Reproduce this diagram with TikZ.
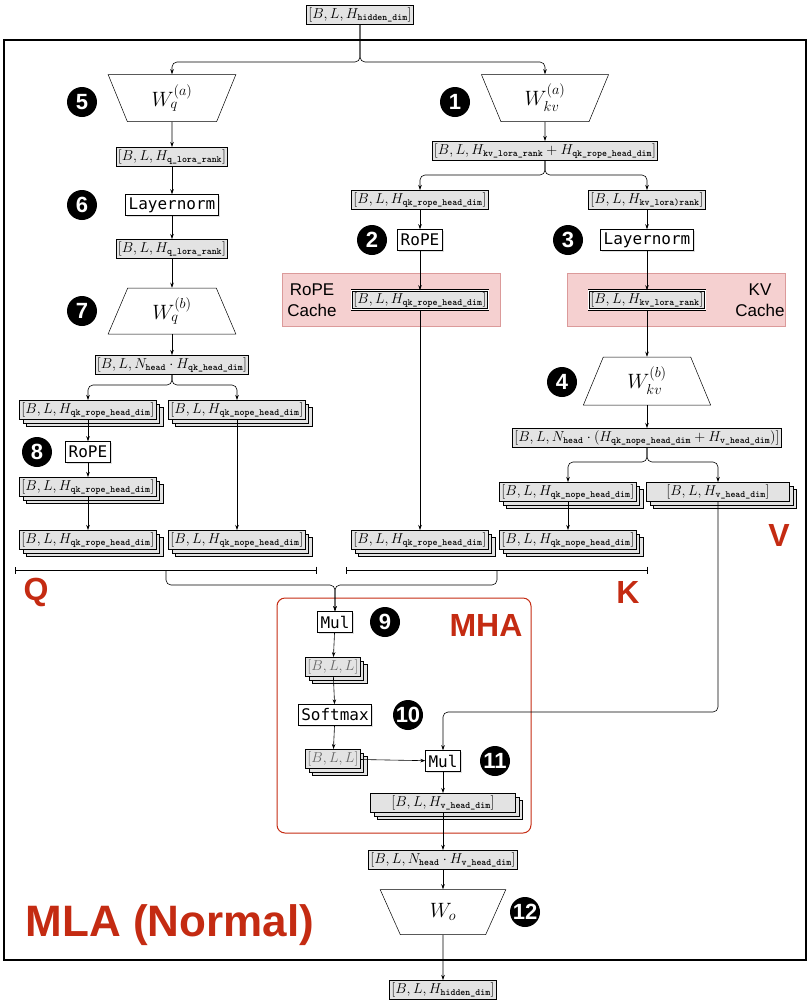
\documentclass[tikz,border=0pt]{standalone}
\usepackage{amsmath}
\usepackage{fontspec}
\newfontfamily\sansf{Liberation Sans}
\newfontfamily\monof{DejaVu Sans Mono}
\usetikzlibrary{shapes.geometric,shadows,arrows.meta}
\definecolor{mred}{HTML}{C42B12}
\definecolor{pinkf}{HTML}{F5D0D0}
\definecolor{pinkd}{HTML}{DB9A9A}
\newcommand{\tsub}[1]{\text{\ttfamily\bfseries #1}}
\begin{document}
\begin{tikzpicture}[x=1pt,y=-1pt,
  every path/.style={line width=0.6pt},
  arr/.style={-{Stealth[length=5pt,width=3.5pt]},rounded corners=5pt},
  ten/.style={draw,line width=1pt,fill=gray!22,inner sep=1.5pt,minimum height=19pt,font=\fontsize{13.5}{15}\selectfont},
  stk/.style={ten,double copy shadow={shadow xshift=3.5pt,shadow yshift=-3.5pt,fill=gray!22,draw,line width=1pt}},
  op/.style={draw,fill=white,line width=0.5pt,inner sep=3pt,minimum height=21pt,font=\monof\fontsize{16}{18}\selectfont,drop shadow={opacity=0.25,shadow xshift=1.5pt,shadow yshift=-1.5pt}},
  num/.style={circle,fill=black,text=white,inner sep=0pt,minimum size=30pt,font=\sansf\bfseries\fontsize{22}{24}\selectfont},
  trap/.style={draw,fill=white,trapezium,trapezium stretches=true,line width=0.5pt,font=\fontsize{22}{24}\selectfont},
  cache/.style={fill=pinkf,draw=pinkd,line width=0.8pt},
  dbl/.style={ten,double,double distance=1pt,line width=0.6pt},
  lab/.style={font=\sansf\bfseries\fontsize{32}{34}\selectfont,text=mred},
]
\useasboundingbox (0,0) rectangle (808,1005);
\draw[line width=1.5pt] (4,40) rectangle (806,960);

\node[ten] (in) at (360,15) {$[B,L,H_{\tsub{hidden\_dim}}]$};

% Q branch
\node[trap,shape border rotate=180,minimum width=128pt,minimum height=47pt,trapezium angle=73] (wqa) at (172,98) {$W_q^{(a)}$};
\node[num] (n5) at (82,102) {5};
\node[ten] (q1) at (172,157) {$[B,L,H_{\tsub{q\_lora\_rank}}]$};
\node[op] (ln1) at (172,205) {Layernorm};
\node[num] (n6) at (82,205) {6};
\node[ten] (q2) at (172,249) {$[B,L,H_{\tsub{q\_lora\_rank}}]$};
\node[trap,minimum width=128pt,minimum height=46pt,trapezium angle=73] (wqb) at (172,311) {$W_q^{(b)}$};
\node[num] (n7) at (82,311) {7};
\node[ten] (q3) at (172,365) {$[B,L,N_{\tsub{head}}\cdot H_{\tsub{qk\_head\_dim}}]$};
\node[stk] (qr1) at (88,410) {$[B,L,H_{\tsub{qk\_rope\_head\_dim}}]$};
\node[stk] (qn1) at (237,410) {$[B,L,H_{\tsub{qk\_nope\_head\_dim}}]$};
\node[op] (rope8) at (88,452) {RoPE};
\node[num] (n8) at (37,452) {8};
\node[stk] (qr2) at (88,487) {$[B,L,H_{\tsub{qk\_rope\_head\_dim}}]$};
\node[stk] (qr3) at (88,540) {$[B,L,H_{\tsub{qk\_rope\_head\_dim}}]$};
\node[stk] (qn3) at (237,540) {$[B,L,H_{\tsub{qk\_nope\_head\_dim}}]$};
\coordinate (qa) at (15,570); \coordinate (qb) at (317,570); \coordinate (qm) at (166,570);
\draw[|-|,line width=1pt] (qa) -- (qb);
\node[lab] (Q) at (36,592) {Q};

% KV branch
\node[trap,shape border rotate=180,minimum width=128pt,minimum height=47pt,trapezium angle=73] (wkva) at (545,98) {$W_{kv}^{(a)}$};
\node[num] (n1) at (455,102) {1};
\node[ten] (k1) at (545,151) {$[B,L,H_{\tsub{kv\_lora\_rank}}+H_{\tsub{qk\_rope\_head\_dim}}]$};
\node[ten] (kr1) at (420,200) {$[B,L,H_{\tsub{qk\_rope\_head\_dim}}]$};
\node[ten] (kl1) at (647,200) {$[B,L,H_{\tsub{kv\_lora)rank}}]$};
\node[op] (rope2) at (420,240) {RoPE};
\node[num] (n2) at (372,240) {2};
\node[op] (ln3) at (647,240) {Layernorm};
\node[num] (n3) at (568,240) {3};
\draw[cache] (282,273) rectangle (500,326);
\draw[cache] (567,273) rectangle (785,326);
\node[font=\sansf\fontsize{17}{21}\selectfont,align=center,inner sep=0pt] (rc) at (312,300) {RoPE\\Cache};
\node[font=\sansf\fontsize{17}{21}\selectfont,align=center,inner sep=0pt] (kc) at (760,300) {KV\\Cache};
\node[dbl] (kr2) at (420,300) {$[B,L,H_{\tsub{qk\_rope\_head\_dim}}]$};
\node[dbl] (kl2) at (647,300) {$[B,L,H_{\tsub{kv\_lora\_rank}}]$};
\node[trap,minimum width=128pt,minimum height=48pt,trapezium angle=73] (wkvb) at (647,381) {$W_{kv}^{(b)}$};
\node[num] (n4) at (562,382) {4};
\node[ten] (k3) at (647,438) {$[B,L,N_{\tsub{head}}\cdot(H_{\tsub{qk\_nope\_head\_dim}}+H_{\tsub{v\_head\_dim}})]$};
\node[stk] (kn1) at (568,492) {$[B,L,H_{\tsub{qk\_nope\_head\_dim}}]$};
\node[stk,minimum width=143pt] (v1) at (718,492) {$[B,L,H_{\tsub{v\_head\_dim}}]$};
\node[stk] (kr3) at (420,540) {$[B,L,H_{\tsub{qk\_rope\_head\_dim}}]$};
\node[stk] (kn3) at (568,540) {$[B,L,H_{\tsub{qk\_nope\_head\_dim}}]$};
\coordinate (ka) at (346,570); \coordinate (kb) at (648,570); \coordinate (km) at (497,570);
\draw[|-|,line width=1pt] (ka) -- (kb);
\node[lab] (K) at (628,592) {K};
\node[lab] (V) at (779,535) {V};

% MHA
\draw[mred,line width=1pt,rounded corners=8pt] (277,598) rectangle (531,833);
\node[lab] (MHA) at (486,625) {MHA};
\node[op] (mul1) at (335,622) {Mul};
\node[num] (n9) at (385,622) {9};
\node[stk,text=black!60] (s1) at (333,667) {$[B,L,L]$};
\node[op] (sm) at (335,715) {Softmax};
\node[num] (n10) at (408,715) {10};
\node[stk,text=black!60] (s2) at (333,759) {$[B,L,L]$};
\node[op] (mul2) at (443,761) {Mul};
\node[num] (n11) at (495,761) {11};
\node[stk,minimum width=145pt] (o1) at (443,803) {$[B,L,H_{\tsub{v\_head\_dim}}]$};
\node[ten] (o2) at (443,860) {$[B,L,N_{\tsub{head}}\cdot H_{\tsub{v\_head\_dim}}]$};
\node[trap,shape border rotate=180,minimum width=126pt,minimum height=45pt,trapezium angle=72] (wo) at (443,912) {$W_o$};
\node[num] (n12) at (525,912) {12};
\node[ten] (out) at (443,990) {$[B,L,H_{\tsub{hidden\_dim}}]$};
\node[font=\sansf\bfseries\fontsize{44}{48}\selectfont,text=mred] (mla) at (170,925) {MLA (Normal)};
\coordinate (vc) at (443,712);

% connectors
\draw[arr] (in.south) -- ++(0,37) -| (wqa.north);
\draw[arr] (in.south) -- ++(0,37) -| (wkva.north);
\draw[arr] (wqa.south) -- (q1);
\draw[arr] (q1) -- (ln1);
\draw[arr] (ln1) -- (q2);
\draw[arr] (q2) -- (wqb);
\draw[arr] (wqb) -- (q3);
\draw[arr] (q3.south) -- ++(0,10) -| (qr1.north);
\draw[arr] (q3.south) -- ++(0,10) -| (qn1.north);
\draw[arr] (qr1) -- (rope8);
\draw[arr] (rope8) -- (qr2);
\draw[arr] (qr2) -- (qr3);
\draw[arr] (qn1) -- (qn3);
\draw[arr] (wkva.south) -- (k1);
\draw[arr] (k1.south) -- ++(0,14) -| (kr1.north);
\draw[arr] (k1.south) -- ++(0,14) -| (kl1.north);
\draw[arr] (kr1) -- (rope2);
\draw[arr] (rope2) -- (kr2);
\draw[arr] (kl1) -- (ln3);
\draw[arr] (ln3) -- (kl2);
\draw[arr] (kl2) -- (wkvb);
\draw[arr] (kr2) -- (kr3);
\draw[arr] (wkvb) -- (k3);
\draw[arr] (k3.south) -- ++(0,14) -| (kn1.north);
\draw[arr] (k3.south) -- ++(0,14) -| (v1.north);
\draw[arr] (kn1) -- (kn3);
\draw[arr] (qm) -- ++(0,15) -| (mul1.north);
\draw[arr] (km) -- ++(0,15) -| (mul1.north);
\draw[arr] (mul1) -- (s1);
\draw[arr] (s1) -- (sm);
\draw[arr] (sm) -- (s2);
\draw[arr] (s2) -- (mul2);
\draw[arr] (v1.south) |- (vc) -- (mul2.north);
\draw[arr] (mul2) -- (o1);
\draw[arr] (o1) -- (o2);
\draw[arr] (o2) -- (wo);
\draw[arr] (wo.south) -- (out);
\end{tikzpicture}
\end{document}
